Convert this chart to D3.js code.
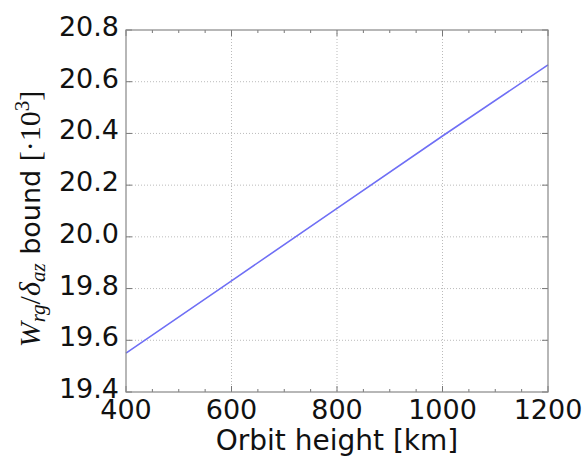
<!DOCTYPE html>
<html>
<head>
<meta charset="utf-8">
<script src="https://cdn.jsdelivr.net/npm/d3@7"></script>
<style>
  body { margin: 0; background: #fff; }
  svg { display: block; }
</style>
</head>
<body>
<svg id="chart" width="587" height="463"></svg>
<script>
// Data
const heights = [400, 600, 800, 1000, 1200];
const bound = [19.55, 19.83, 20.11, 20.39, 20.665];
const xTicks = [400, 600, 800, 1000, 1200];
const yTicks = [19.4, 19.6, 19.8, 20.0, 20.2, 20.4, 20.6, 20.8];

const margin = {top: 30, right: 39, bottom: 71, left: 126},
    W = 587, H = 463,
    width = W - margin.left - margin.right,
    height = H - margin.top - margin.bottom;

const svg = d3.select("#chart");
const g = svg.append("g").attr("transform", `translate(${margin.left},${margin.top})`);

const x = d3.scaleLinear().domain([400, 1200]).range([0, width]);
const y = d3.scaleLinear().domain([19.4, 20.8]).range([height, 0]);

// grid
g.append("g").selectAll("line")
    .data(xTicks.slice(1, -1))
    .join("line")
    .attr("x1", d => x(d)).attr("x2", d => x(d))
    .attr("y1", 0).attr("y2", height)
    .attr("stroke", "#bbb").attr("stroke-dasharray", "1,2").attr("stroke-width", 1);
g.append("g").selectAll("line")
    .data(yTicks.slice(1, -1))
    .join("line")
    .attr("y1", d => y(d)).attr("y2", d => y(d))
    .attr("x1", 0).attr("x2", width)
    .attr("stroke", "#bbb").attr("stroke-dasharray", "1,2").attr("stroke-width", 1);

// line
g.append("path")
    .datum(heights.map((h, i) => [h, bound[i]]))
    .attr("fill", "none")
    .attr("stroke", "#6f6ff5")
    .attr("stroke-width", 1.6)
    .attr("d", d3.line().x(d => x(d[0])).y(d => y(d[1])));

// ticks (inward), major and minor
const xMinor = d3.range(450, 1200, 50).filter(v => !xTicks.includes(v));
const tickCol = "#777";
const tk = g.append("g").attr("stroke", tickCol).attr("stroke-width", 1);
xTicks.forEach(v => {
  tk.append("line").attr("x1", x(v)).attr("x2", x(v)).attr("y1", height).attr("y2", height - 6);
  tk.append("line").attr("x1", x(v)).attr("x2", x(v)).attr("y1", 0).attr("y2", 6);
});
xMinor.forEach(v => {
  tk.append("line").attr("x1", x(v)).attr("x2", x(v)).attr("y1", height).attr("y2", height - 3);
  tk.append("line").attr("x1", x(v)).attr("x2", x(v)).attr("y1", 0).attr("y2", 3);
});
yTicks.forEach(v => {
  tk.append("line").attr("y1", y(v)).attr("y2", y(v)).attr("x1", 0).attr("x2", 6);
  tk.append("line").attr("y1", y(v)).attr("y2", y(v)).attr("x1", width).attr("x2", width - 6);
});

// frame
g.append("rect")
    .attr("width", width).attr("height", height)
    .attr("fill", "none").attr("stroke", "#888").attr("stroke-width", 1.2);

// tick labels
const font = "DejaVu Sans, sans-serif";
g.append("g").selectAll("text")
    .data(xTicks).join("text")
    .attr("x", d => x(d)).attr("y", height + 27)
    .attr("text-anchor", "middle")
    .attr("font-family", font).attr("font-size", 27).attr("fill", "#111")
    .text(d => d);
g.append("g").selectAll("text")
    .data(yTicks).join("text")
    .attr("x", -7).attr("y", d => y(d) + 6)
    .attr("text-anchor", "end")
    .attr("font-family", font).attr("font-size", 27).attr("fill", "#111")
    .text(d => d.toFixed(1));

// axis labels
svg.append("text")
    .attr("x", 337).attr("y", 450)
    .attr("text-anchor", "middle")
    .attr("font-family", font).attr("font-size", 28).attr("fill", "#111")
    .text("Orbit height [km]");

const serif = "Liberation Serif, DejaVu Serif, serif";
const yl = svg.append("text")
    .attr("transform", "translate(40,219) rotate(-90)")
    .attr("text-anchor", "middle")
    .attr("font-size", 30).attr("fill", "#111");
yl.append("tspan").attr("font-family", serif).attr("font-style", "italic").text("W");
yl.append("tspan").attr("font-family", serif).attr("font-style", "italic")
    .attr("font-size", 21).attr("dy", 5).text("rg");
yl.append("tspan").attr("font-family", serif).attr("dy", -5).text("/");
yl.append("tspan").attr("font-family", serif).attr("font-style", "italic").text("δ");
yl.append("tspan").attr("font-family", serif).attr("font-style", "italic")
    .attr("font-size", 21).attr("dy", 5).text("az");
yl.append("tspan").attr("font-family", font).attr("font-size", 27).attr("dy", -5).text(" bound ");
yl.append("tspan").attr("font-family", serif).text("[·10");
yl.append("tspan").attr("font-family", serif).attr("font-size", 21).attr("dy", -11).text("3");
yl.append("tspan").attr("font-family", serif).attr("dy", 11).text("]");

// title clipped at top
svg.append("text")
    .attr("x", 337).attr("y", -3)
    .attr("text-anchor", "middle")
    .attr("font-family", font).attr("font-size", 23).attr("fill", "#111")
    .text("(a)");
</script>
</body>
</html>
